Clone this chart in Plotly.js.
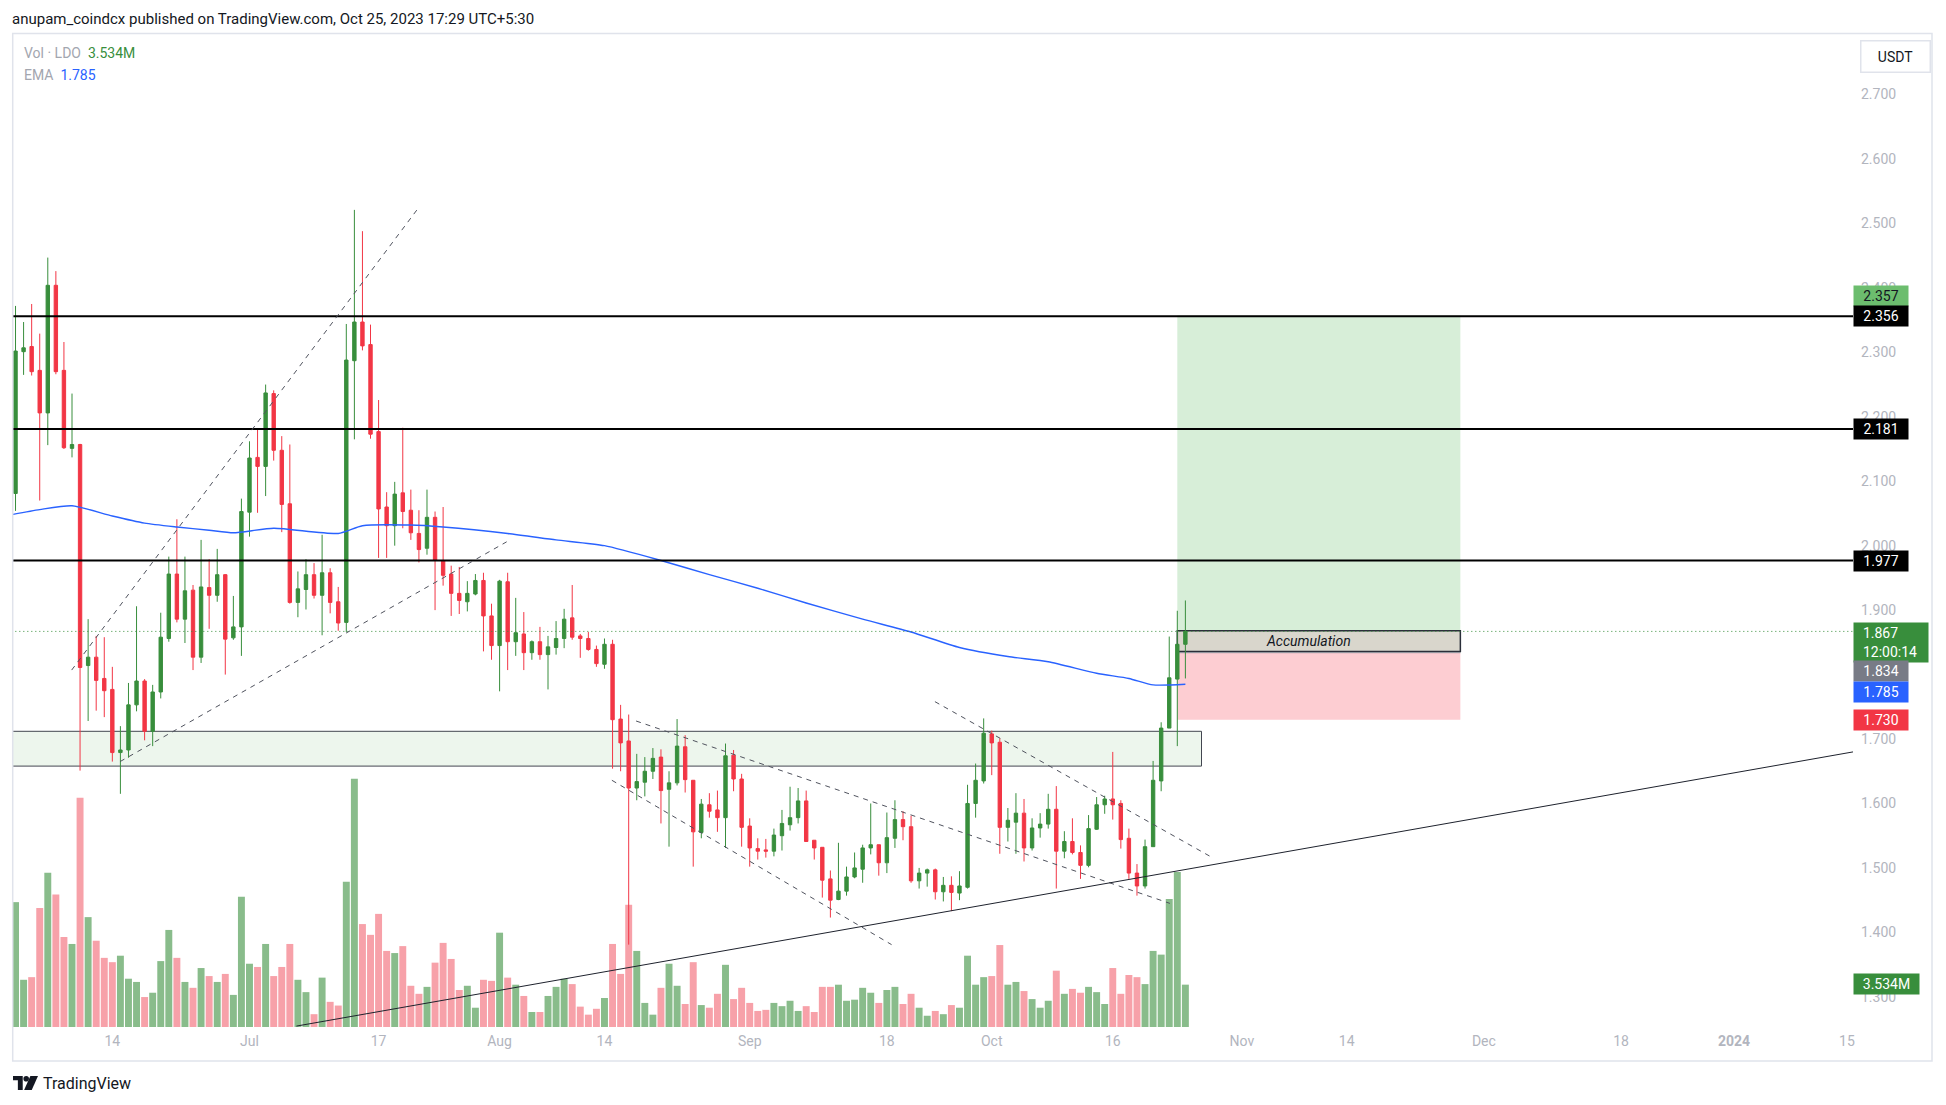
<!DOCTYPE html>
<html><head><meta charset="utf-8">
<script src="https://cdn.plot.ly/plotly-3.0.1.min.js"></script>
<style>html,body{margin:0;padding:0;background:#fff;}#chart{width:1946px;height:1105px;}</style>
</head><body><div id="chart"></div>
<script>
// ---------- data ----------
const firstDay = '2023-06-02';
const openP = [
2.081,2.301,2.309,2.272,2.206,2.404,2.272,2.151,2.157,1.814,1.827,1.794,1.777,1.679,1.683,1.753,1.790,1.712,1.773,1.856,1.956,1.886,1.931,1.827,1.935,1.923,1.955,1.857,1.874,
2.052,2.137,2.123,2.236,2.148,2.065,1.912,1.932,1.955,1.923,1.958,1.913,1.881,2.287,2.347,2.312,2.177,2.060,2.031,2.082,2.055,2.019,1.996,2.044,1.977,1.956,1.926,1.913,1.925,1.946,1.891,
1.845,1.944,1.851,1.863,1.834,1.851,1.831,1.842,1.856,1.888,1.860,1.856,1.839,1.816,1.847,1.731,1.697,1.624,1.633,1.650,1.672,1.622,1.632,1.688,1.636,1.555,1.598,1.590,1.578,1.675,1.638,
1.565,1.530,1.528,1.526,1.550,1.567,1.578,1.604,1.543,1.532,1.483,1.451,1.464,1.486,1.498,1.531,1.536,1.508,1.546,1.575,1.564,1.480,1.492,1.497,1.463,1.473,1.461,1.470,1.600,1.635,
1.708,1.695,1.563,1.571,1.585,1.531,1.562,1.568,1.591,1.526,1.541,1.524,1.504,1.560,1.598,1.607,1.600,1.546,1.492,1.472,1.533,1.635,1.717,1.793,1.847];
const highP = [
2.372,2.347,2.375,2.329,2.447,2.426,2.316,2.236,2.158,1.886,1.860,1.858,1.812,1.720,1.787,1.906,1.793,1.784,1.896,1.983,2.041,1.983,1.939,2.009,1.979,1.995,1.956,1.922,2.073,
2.162,2.181,2.250,2.241,2.170,2.157,1.960,1.979,1.973,2.017,1.965,1.936,2.344,2.521,2.488,2.343,2.226,2.083,2.099,2.183,2.087,2.055,2.087,2.053,2.060,1.969,1.967,1.945,1.956,1.958,1.910,
1.947,1.958,1.919,1.897,1.853,1.874,1.860,1.883,1.902,1.939,1.863,1.866,1.845,1.856,1.854,1.753,1.738,1.677,1.672,1.686,1.684,1.650,1.731,1.706,1.636,1.607,1.616,1.620,1.693,1.683,1.646,
1.577,1.546,1.545,1.561,1.590,1.626,1.624,1.620,1.543,1.532,1.496,1.539,1.502,1.524,1.536,1.600,1.536,1.586,1.605,1.588,1.581,1.500,1.499,1.499,1.486,1.487,1.495,1.629,1.662,1.732,
1.713,1.701,1.593,1.616,1.607,1.577,1.585,1.615,1.627,1.557,1.577,1.535,1.582,1.610,1.612,1.680,1.605,1.561,1.506,1.544,1.666,1.726,1.859,1.899,1.915];
const lowP = [
2.054,2.265,2.264,2.070,2.156,2.266,2.150,2.137,1.651,1.728,1.744,1.734,1.665,1.615,1.671,1.743,1.698,1.689,1.763,1.851,1.881,1.849,1.807,1.818,1.871,1.913,1.800,1.854,1.829,
2.014,2.051,2.077,2.132,2.021,1.910,1.889,1.901,1.918,1.861,1.895,1.868,1.866,2.165,2.303,2.166,1.981,1.981,2.000,2.027,2.009,1.974,1.986,1.900,1.938,1.891,1.894,1.898,1.923,1.836,1.823,
1.774,1.807,1.829,1.807,1.823,1.823,1.777,1.831,1.841,1.854,1.826,1.837,1.812,1.809,1.654,1.650,1.381,1.605,1.611,1.638,1.569,1.533,1.628,1.617,1.502,1.546,1.578,1.556,1.531,1.619,1.533,
1.502,1.513,1.516,1.518,1.527,1.558,1.569,1.541,1.513,1.454,1.423,1.450,1.457,1.484,1.477,1.521,1.488,1.492,1.531,1.543,1.477,1.468,1.471,1.451,1.448,1.433,1.450,1.468,1.578,1.631,
1.644,1.522,1.541,1.522,1.510,1.527,1.547,1.561,1.468,1.515,1.521,1.483,1.501,1.559,1.584,1.575,1.530,1.483,1.457,1.468,1.533,1.619,1.717,1.689,1.794];
const closeP = [
2.302,2.307,2.270,2.206,2.404,2.270,2.152,2.157,1.811,1.827,1.791,1.775,1.679,1.683,1.753,1.790,1.712,1.773,1.858,1.956,1.886,1.930,1.827,1.936,1.923,1.955,1.855,1.874,2.053,
2.136,2.123,2.237,2.148,2.064,1.912,1.933,1.955,1.923,1.958,1.912,1.880,2.288,2.347,2.310,2.173,2.057,2.031,2.080,2.053,2.020,1.994,2.044,1.977,1.954,1.926,1.915,1.926,1.946,1.891,1.845,
1.945,1.851,1.865,1.834,1.851,1.831,1.843,1.856,1.886,1.858,1.856,1.839,1.817,1.847,1.730,1.694,1.624,1.634,1.650,1.670,1.620,1.632,1.689,1.637,1.556,1.599,1.588,1.578,1.674,1.638,1.563,
1.531,1.526,1.526,1.551,1.569,1.578,1.604,1.541,1.531,1.481,1.450,1.464,1.486,1.500,1.531,1.536,1.508,1.547,1.575,1.564,1.480,1.492,1.497,1.463,1.473,1.462,1.472,1.600,1.636,1.709,
1.694,1.563,1.574,1.585,1.531,1.562,1.568,1.591,1.526,1.541,1.524,1.504,1.561,1.598,1.607,1.598,1.544,1.492,1.472,1.533,1.636,1.717,1.795,1.847,1.867];
const volumeM = [
10.42,3.94,4.16,9.93,12.88,11.05,7.51,6.93,19.14,9.17,7.20,5.77,5.41,5.95,4.03,3.76,2.50,2.86,5.50,8.10,5.77,3.76,3.27,4.92,4.25,3.76,4.43,2.68,10.87,
5.28,5.01,6.93,4.25,5.01,6.93,3.94,2.91,1.07,4.12,2.10,1.79,12.12,20.71,8.59,7.69,9.44,6.35,6.17,6.75,3.44,2.77,3.35,5.37,7.02,5.68,3.09,3.44,1.61,3.94,3.85,
7.87,4.12,3.53,2.59,1.25,1.25,2.59,3.35,4.03,3.58,1.70,1.03,1.52,2.42,6.93,4.43,10.20,6.35,2.01,1.03,3.27,5.28,3.44,1.92,5.41,1.83,1.61,2.77,5.19,2.33,3.27,
2.01,1.34,1.43,2.01,1.74,2.19,1.34,1.74,1.25,3.35,3.35,3.53,2.19,2.28,3.27,2.86,2.01,3.09,3.35,1.92,2.77,1.61,0.94,1.34,1.07,1.83,1.61,5.95,3.53,4.16,
4.25,6.84,3.53,3.76,3.00,2.33,1.61,2.19,4.70,2.77,3.18,2.86,3.35,2.91,1.92,4.92,2.77,4.34,4.16,3.58,6.35,6.04,10.69,12.93,3.534];
const emaDates = ['2023-06-01','2023-06-05','2023-06-09','2023-06-14','2023-06-18','2023-06-22','2023-06-26','2023-06-29','2023-07-04','2023-07-12','2023-07-15','2023-07-21','2023-07-25','2023-08-02','2023-08-08','2023-08-14','2023-08-21','2023-08-27','2023-09-02','2023-09-08','2023-09-15','2023-09-21','2023-09-27','2023-10-03','2023-10-08','2023-10-14','2023-10-18','2023-10-21','2023-10-25'];
const emaValues = [2.047,2.056,2.062,2.046,2.035,2.029,2.024,2.020,2.027,2.019,2.031,2.032,2.029,2.019,2.009,2.000,1.977,1.955,1.934,1.911,1.886,1.866,1.842,1.828,1.820,1.802,1.794,1.784,1.785];
const levels = [2.356, 2.181, 1.977];
const supportZone = [1.658, 1.712];
const entryPrice = 1.834, targetPrice = 2.357, stopPrice = 1.730;
const accumZone = [1.836, 1.868];
const lastPrice = 1.867, emaLast = 1.785, lastVolume = '3.534M', countdown = '12:00:14';
const priceTicks = [1.3,1.4,1.5,1.6,1.7,1.8,1.9,2.0,2.1,2.2,2.3,2.4,2.5,2.6,2.7];
const timeTickVals = ['2023-06-14','2023-07-01','2023-07-17','2023-08-01','2023-08-14','2023-09-01','2023-09-18','2023-10-01','2023-10-16','2023-11-01','2023-11-14','2023-12-01','2023-12-18','2024-01-01','2024-01-15'];
const timeTickText = ['14','Jul','17','Aug','14','Sep','18','Oct','16','Nov','14','Dec','18','<b>2024</b>','15'];
const trendLines = [
  {x:['2023-06-08 23:00','2023-07-21 21:00'], y:[1.807,2.523], dashed:true},
  {x:['2023-06-14 23:00','2023-08-01 21:00'], y:[1.665,2.006], dashed:true},
  {x:['2023-08-17 22:00','2023-10-23 02:00'], y:[1.728,1.445], dashed:true},
  {x:['2023-08-14 22:00','2023-09-18 14:00'], y:[1.636,1.381], dashed:true},
  {x:['2023-09-23 23:00','2023-10-28 01:30'], y:[1.758,1.518], dashed:true},
  {x:['2023-07-06 19:30','2024-01-15 18:00'], y:[1.2546,1.680], dashed:false}
];

// ---------- build ----------
function dayList(start, n){
  const out=[]; const d0=new Date(start+'T00:00:00Z');
  for(let i=0;i<n;i++){const d=new Date(d0.getTime()+i*86400000); out.push(d.toISOString().slice(0,10));}
  return out;
}
const dates = dayList(firstDay, closeP.length);
const UP='#388e3c', DOWN='#f23645';
const volColors = closeP.map((c,i)=> c>=openP[i] ? '#89bc8b' : '#f7a1a9');
const F = "Roboto, 'Liberation Sans', Arial, sans-serif";
const PL=13, PR=1853, PT=36, PB=1027;
const xp = px => (px-PL)/(PR-PL);
const yp = py => (PB-py)/(PB-PT);
const X0='2023-06-01 16:30', X1='2024-01-15 18:00';

const traces = [
  {type:'bar', x:dates, y:volumeM, marker:{color:volColors, line:{width:0}}, width:0.86*86400000, yaxis:'y', hoverinfo:'skip'},
  {type:'scatter', mode:'lines', x:emaDates, y:emaValues, yaxis:'y2', line:{color:'#2962ff', width:1.4, shape:'spline', smoothing:0.6}, hoverinfo:'skip'},
  {type:'candlestick', x:dates, open:openP, high:highP, low:lowP, close:closeP, yaxis:'y2', whiskerwidth:0,
   increasing:{line:{color:UP,width:1}, fillcolor:UP}, decreasing:{line:{color:DOWN,width:1}, fillcolor:DOWN}, hoverinfo:'skip'}
];

const shapes = [];
shapes.push({type:'rect', xref:'x', yref:'y2', x0:'2023-05-30', x1:'2023-10-27', y0:supportZone[0], y1:supportZone[1], fillcolor:'#edf6ed', line:{color:'#434651', width:1}, layer:'below'});
const posX0='2023-10-24', posX1='2023-11-28 02:00';
shapes.push({type:'rect', xref:'x', yref:'y2', x0:posX0, x1:posX1, y0:entryPrice, y1:targetPrice, fillcolor:'#d7eed8', line:{width:0}, layer:'below'});
shapes.push({type:'rect', xref:'x', yref:'y2', x0:posX0, x1:posX1, y0:stopPrice, y1:entryPrice, fillcolor:'#fdcdd2', line:{width:0}, layer:'below'});
shapes.push({type:'rect', xref:'x', yref:'y2', x0:posX0, x1:posX1, y0:accumZone[0], y1:accumZone[1], fillcolor:'#d9d6cc', line:{color:'#2a2e39', width:1.5}, layer:'below'});
shapes.push({type:'line', xref:'x', yref:'y2', x0:posX0, x1:posX1, y0:entryPrice, y1:entryPrice, line:{color:'#8c8f99', width:1}, layer:'below'});
levels.forEach(v=>shapes.push({type:'line', xref:'x', yref:'y2', x0:'2023-05-30', x1:'2024-01-20', y0:v, y1:v, line:{color:'#000', width:2}, layer:'above'}));
shapes.push({type:'line', xref:'x', yref:'y2', x0:'2023-05-30', x1:'2024-01-20', y0:lastPrice, y1:lastPrice, line:{color:UP, width:1, dash:'1px,3px'}, layer:'above'});
trendLines.forEach(t=>shapes.push({type:'line', xref:'x', yref:'y2', x0:t.x[0], x1:t.x[1], y0:t.y[0], y1:t.y[1],
  line:{color: t.dashed ? '#50535e' : '#1e222d', width:1, dash: t.dashed ? '5px,5px' : 'solid'}, layer:'above'}));
shapes.push({type:'rect', xref:'paper', yref:'paper', x0:xp(12.7), x1:xp(1932), y0:yp(1061), y1:yp(33.5), line:{color:'#e0e3eb', width:1.5}, fillcolor:'rgba(0,0,0,0)', layer:'above'});

function priceLabel(text, y, bg, fg, w){
  return {xref:'paper', x:1, xanchor:'left', yref:'y2', y:y, yanchor:'middle', text:text, showarrow:false,
    bgcolor:bg, font:{family:F, size:14, color:fg}, width:w||50, height:16, borderpad:2, align:'center'};
}
const annotations = [
  {xref:'paper', yref:'paper', x:xp(10), y:yp(19), xanchor:'left', yanchor:'middle', showarrow:false,
   text:'anupam_coindcx published on TradingView.com, Oct 25, 2023 17:29 UTC+5:30', font:{family:F, size:15, color:'#131722'}},
  {xref:'paper', yref:'paper', x:xp(22), y:yp(53), xanchor:'left', yanchor:'middle', showarrow:false,
   text:'Vol · LDO&nbsp;&nbsp;<span style="color:#388e3c">'+lastVolume+'</span>', font:{family:F, size:14, color:'#a3a6af'}},
  {xref:'paper', yref:'paper', x:xp(22), y:yp(75), xanchor:'left', yanchor:'middle', showarrow:false,
   text:'EMA&nbsp;&nbsp;<span style="color:#2962ff">'+emaLast.toFixed(3)+'</span>', font:{family:F, size:14, color:'#a3a6af'}},
  {xref:'paper', yref:'paper', x:xp(1895), y:yp(56), xanchor:'center', yanchor:'middle', showarrow:false,
   text:'USDT', font:{family:F, size:14, color:'#131722'}, bordercolor:'#e0e3eb', borderwidth:1.5, borderpad:6, width:56, height:18, bgcolor:'#fff'},
  {xref:'x', yref:'y2', x:'2023-11-09 07:00', y:(accumZone[0]+accumZone[1])/2, showarrow:false,
   text:'<i>Accumulation</i>', font:{family:F, size:14, color:'#131722'}},
  priceLabel(targetPrice.toFixed(3), 2.387, '#6cbd6e', '#131722'),
  priceLabel(levels[0].toFixed(3), levels[0], '#000', '#fff'),
  priceLabel(levels[1].toFixed(3), levels[1], '#000', '#fff'),
  priceLabel(levels[2].toFixed(3), levels[2], '#000', '#fff'),
  {xref:'paper', x:1, xanchor:'left', yref:'y2', y:1.8816, yanchor:'top', showarrow:false,
   text:'&nbsp;&nbsp;'+lastPrice.toFixed(3)+'<br>&nbsp;&nbsp;'+countdown, bgcolor:UP, font:{family:F, size:14, color:'#fff'},
   width:70, height:35, borderpad:2, align:'left'},
  priceLabel(entryPrice.toFixed(3), 1.805, '#787b86', '#fff'),
  priceLabel(emaLast.toFixed(3), 1.7734, '#2962ff', '#fff'),
  priceLabel(stopPrice.toFixed(3), 1.7295, '#f23645', '#fff'),
  priceLabel(lastVolume, 1.320, UP, '#fff', 61),
  {xref:'paper', yref:'paper', x:xp(41), y:yp(1083), xanchor:'left', yanchor:'middle', showarrow:false,
   text:'TradingView', font:{family:F, size:16, color:'#131722'}}
];

const logoSvg = '<svg xmlns="http://www.w3.org/2000/svg" viewBox="0 0 36 20"><path d="M0 0H14V20H7V6H0Z" fill="#131722"/><circle cx="19" cy="4" r="4" fill="#131722"/><path d="M25 0H36L27 20H16Z" fill="#131722"/></svg>';

const layout = {
  width:1946, height:1105,
  margin:{l:PL, r:1946-PR, t:PT, b:1105-PB, pad:0},
  paper_bgcolor:'#fff', plot_bgcolor:'#fff',
  showlegend:false, hovermode:false, dragmode:false,
  boxgap:0.4,
  xaxis:{type:'date', range:[X0,X1], tickmode:'array', tickvals:timeTickVals, ticktext:timeTickText,
    showgrid:false, zeroline:false, showline:false, ticks:'', rangeslider:{visible:false},
    tickfont:{family:F, size:14, color:'#b2b5be'}, ticklabelstandoff:4, fixedrange:true},
  yaxis:{range:[0,82.7], visible:false, fixedrange:true},
  yaxis2:{overlaying:'y', side:'right', range:[1.2532,2.7908], tickmode:'array', tickvals:priceTicks,
    ticktext:priceTicks.map(v=>v.toFixed(3)), showgrid:false, zeroline:false, showline:false, ticks:'',
    tickfont:{family:F, size:14, color:'#b2b5be'}, ticklabelstandoff:7, fixedrange:true},
  shapes:shapes,
  annotations:annotations,
  images:[{source:'data:image/svg+xml;charset=utf-8,'+encodeURIComponent(logoSvg), xref:'paper', yref:'paper',
    x:xp(13), y:yp(1076), sizex:25/(PR-PL), sizey:14/(PB-PT), xanchor:'left', yanchor:'top', sizing:'stretch', layer:'above'}]
};
Plotly.newPlot('chart', traces, layout, {displayModeBar:false, staticPlot:true});
</script>
</body></html>
